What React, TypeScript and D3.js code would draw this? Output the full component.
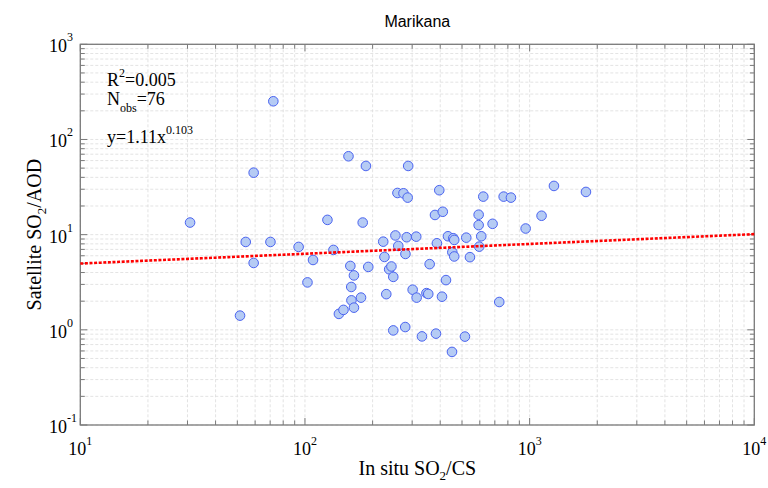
import React from "react";
import * as d3 from "d3";

// In situ SO2/CS (x) and Satellite SO2/AOD (y)
const xVals = [30.8, 51.4, 54.5, 59.1, 59.1, 70.2, 72.3, 93.7, 102.6, 108.6, 125.9, 133.9, 141.6, 148.4, 156.2, 159.2, 160.7, 161.0, 165.2, 165.2, 177.6, 180.7, 186.8, 191.3, 223.0, 225.8, 230.1, 237.0, 242.6, 247.2, 247.2, 252.7, 258.0, 260.2, 274.4, 280.0, 279.4, 283.6, 286.5, 288.0, 301.5, 312.8, 314.1, 331.7, 347.3, 353.8, 358.9, 379.1, 382.9, 386.6, 396.1, 407.3, 410.6, 424.3, 433.0, 452.8, 451.2, 457.1, 461.8, 461.8, 515.3, 522.4, 542.4, 593.0, 593.0, 596.6, 609.1, 621.9, 684.1, 732.5, 766.2, 825.6, 959.9, 1130, 1283, 1781];
const yVals = [13.4, 1.41, 8.38, 44.8, 5.04, 8.38, 252, 7.43, 3.15, 5.42, 14.3, 6.91, 1.47, 1.62, 66.6, 4.69, 2.82, 2.04, 3.73, 1.71, 2.18, 13.4, 52.7, 4.58, 8.44, 5.83, 2.37, 4.33, 4.63, 3.6, 0.986, 9.81, 27.4, 7.61, 27.2, 6.27, 1.07, 9.39, 24.5, 52.7, 2.64, 9.53, 2.18, 0.853, 2.43, 2.38, 4.9, 16.1, 0.912, 8.12, 29.3, 2.23, 17.4, 3.33, 9.62, 6.53, 0.586, 9.17, 8.8, 5.9, 0.849, 9.3, 5.8, 16.2, 12.6, 7.48, 9.62, 25.1, 13.0, 1.96, 25.1, 24.5, 11.6, 15.8, 32.5, 28.1];

const xTicks = [10, 100, 1000, 10000];
const xExps = ["1", "2", "3", "4"];
const yTicks = [0.1, 1, 10, 100, 1000];
const yExps = ["-1", "0", "1", "2", "3"];

const fitCoef = 3.92;
const fitExp = 0.103;
const title = "Marikana";
const statR2 = "0.005";
const statN = "76";
const statEqCoef = "1.11";
const statEqExp = "0.103";

const W = 768, H = 488;
const L = 80.3, R = 754.3, T = 44.3, B = 425;
const serif = "'Liberation Serif', 'Times New Roman', serif";

export default function App() {
  const x = d3.scaleLog().domain([10, 10000]).range([L, R]);
  const y = d3.scaleLog().domain([0.1, 1000]).range([B, T]);

  const xGrid: number[] = [];
  for (let e = 1; e < 4; e++) for (let k = 1; k <= 9; k++) xGrid.push(k * Math.pow(10, e));
  xGrid.push(10000);
  const yGrid: number[] = [];
  for (let e = -1; e < 3; e++) for (let k = 1; k <= 9; k++) yGrid.push(k * Math.pow(10, e));
  yGrid.push(1000);
  const isMajor = (v: number) => Math.abs(Math.log10(v) - Math.round(Math.log10(v))) < 1e-9;

  const lineData = d3.range(0, 101).map((i) => Math.pow(10, 1 + (3 * i) / 100));
  const fitLine = d3
    .line<number>()
    .x((d) => x(d))
    .y((d) => y(fitCoef * Math.pow(d, fitExp)))(lineData);

  const gridColor = "#dcdcdc";
  const axisColor = "#7a7a7a";

  return (
    <svg width={W} height={H} style={{ position: "absolute", left: 0, top: 0, background: "#fff" }}>
      <rect x={0} y={0} width={W} height={H} fill="#fff" />
      <rect x={L} y={T} width={R - L} height={B - T} fill="#fff" />
      {/* grid */}
      {xGrid.map((v, i) => (
        <line key={"gx" + i} x1={x(v)} x2={x(v)} y1={T} y2={B} stroke={gridColor} strokeWidth={0.8} strokeDasharray="3,2" />
      ))}
      {yGrid.map((v, i) => (
        <line key={"gy" + i} x1={L} x2={R} y1={y(v)} y2={y(v)} stroke={gridColor} strokeWidth={0.8} strokeDasharray="3,2" />
      ))}
      {/* ticks */}
      {xGrid.map((v, i) => {
        const len = isMajor(v) ? 7 : 4.5;
        return (
          <g key={"tx" + i}>
            <line x1={x(v)} x2={x(v)} y1={B} y2={B - len} stroke={axisColor} strokeWidth={1} />
            <line x1={x(v)} x2={x(v)} y1={T} y2={T + len} stroke={axisColor} strokeWidth={1} />
          </g>
        );
      })}
      {yGrid.map((v, i) => {
        const len = isMajor(v) ? 7 : 4.5;
        return (
          <g key={"ty" + i}>
            <line x1={L} x2={L + len} y1={y(v)} y2={y(v)} stroke={axisColor} strokeWidth={1} />
            <line x1={R} x2={R - len} y1={y(v)} y2={y(v)} stroke={axisColor} strokeWidth={1} />
          </g>
        );
      })}
      {/* frame */}
      <rect x={L} y={T} width={R - L} height={B - T} fill="none" stroke={axisColor} strokeWidth={1.3} />
      {/* points */}
      {xVals.map((xv, i) => (
        <circle key={"p" + i} cx={x(xv)} cy={y(yVals[i])} r={4.8} fill="#b5cbf4" stroke="#4a63f0" strokeWidth={1} />
      ))}
      {/* fit line */}
      <path d={fitLine || ""} fill="none" stroke="#ff0000" strokeWidth={2.6} strokeDasharray="3,1.6" />
      {/* tick labels */}
      {xTicks.map((v, i) => (
        <text key={"lx" + i} x={x(v)} y={455} textAnchor="middle" fontFamily={serif} fontSize={18} fill="#000">
          10<tspan dy={-10} fontSize={12}>{xExps[i]}</tspan>
        </text>
      ))}
      {yTicks.map((v, i) => (
        <text key={"ly" + i} x={49} y={y(v) + 8} fontFamily={serif} fontSize={18} fill="#000">
          10<tspan dy={-11} fontSize={12}>{yExps[i]}</tspan>
        </text>
      ))}
      {/* title */}
      <text x={(L + R) / 2} y={27} textAnchor="middle" fontFamily="'Liberation Sans', Arial, sans-serif" fontSize={16} fill="#000">
        {title}
      </text>
      {/* axis labels */}
      <text x={(L + R) / 2} y={475} textAnchor="middle" fontFamily={serif} fontSize={20} fill="#000">
        In situ SO<tspan dy={5} fontSize={13}>2</tspan>
        <tspan dy={-5}>/CS</tspan>
      </text>
      <text transform={`translate(41,${(T + B) / 2}) rotate(-90)`} textAnchor="middle" fontFamily={serif} fontSize={20} fill="#000">
        Satellite SO<tspan dy={5} fontSize={13}>2</tspan>
        <tspan dy={-5}>/AOD</tspan>
      </text>
      {/* stats */}
      <text x={107} y={86} fontFamily={serif} fontSize={18} fill="#000">
        R<tspan dy={-9} fontSize={12}>2</tspan>
        <tspan dy={9}>={statR2}</tspan>
      </text>
      <text x={107} y={105} fontFamily={serif} fontSize={18} fill="#000">
        N<tspan dy={7} fontSize={12}>obs</tspan>
        <tspan dy={-7}>={statN}</tspan>
      </text>
      <text x={107} y={143} fontFamily={serif} fontSize={18} fill="#000">
        y={statEqCoef}x<tspan dy={-9} fontSize={12}>{statEqExp}</tspan>
      </text>
    </svg>
  );
}
